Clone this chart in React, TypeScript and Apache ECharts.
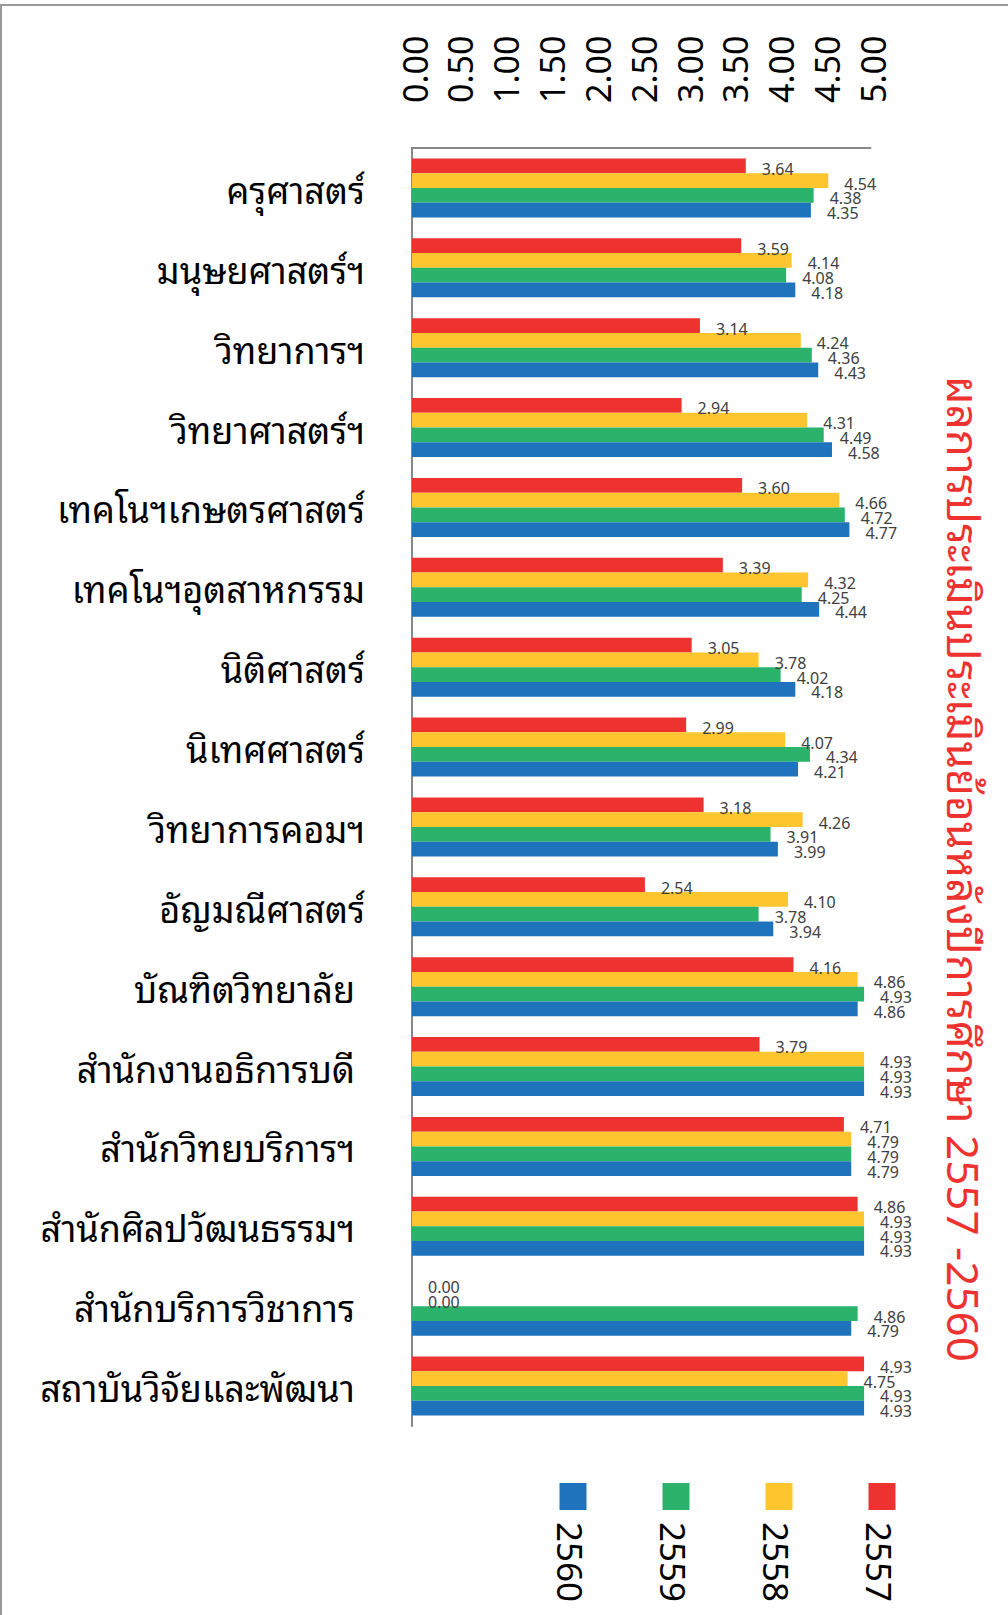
import React, { useEffect, useRef } from "react";
import * as echarts from "echarts";

const categories = [
  "ครุศาสตร์",
  "มนุษยศาสตร์ฯ",
  "วิทยาการฯ",
  "วิทยาศาสตร์ฯ",
  "เทคโนฯเกษตรศาสตร์",
  "เทคโนฯอุตสาหกรรม",
  "นิติศาสตร์",
  "นิเทศศาสตร์",
  "วิทยาการคอมฯ",
  "อัญมณีศาสตร์",
  "บัณฑิตวิทยาลัย",
  "สำนักงานอธิการบดี",
  "สำนักวิทยบริการฯ",
  "สำนักศิลปวัฒนธรรมฯ",
  "สำนักบริการวิชาการ",
  "สถาบันวิจัยและพัฒนา",
];

const values2557 = [3.64, 3.59, 3.14, 2.94, 3.6, 3.39, 3.05, 2.99, 3.18, 2.54, 4.16, 3.79, 4.71, 4.86, 0.0, 4.93];
const values2558 = [4.54, 4.14, 4.24, 4.31, 4.66, 4.32, 3.78, 4.07, 4.26, 4.1, 4.86, 4.93, 4.79, 4.93, 0.0, 4.75];
const values2559 = [4.38, 4.08, 4.36, 4.49, 4.72, 4.25, 4.02, 4.34, 3.91, 3.78, 4.93, 4.93, 4.79, 4.93, 4.86, 4.93];
const values2560 = [4.35, 4.18, 4.43, 4.58, 4.77, 4.44, 4.18, 4.21, 3.99, 3.94, 4.86, 4.93, 4.79, 4.93, 4.79, 4.93];

const seriesNames = ["2557", "2558", "2559", "2560"];
const seriesColors = ["#EE3230", "#FFC52E", "#2BB36C", "#1F73BC"];
const seriesValues = [values2557, values2558, values2559, values2560];

const titleText = "ผลการประเมินประเมินย้อนหลังปีการศึกษา 2557 -2560";

const THAI_FONT =
  "Tahoma, 'Leelawadee UI', 'Noto Sans Thai Looped', 'Noto Serif Thai', Loma, Garuda, Norasi, 'TH Sarabun New', Sarabun, 'Noto Sans Thai', 'Noto Sans', 'DejaVu Sans', sans-serif";

export default function App() {
  const ref = useRef<HTMLDivElement>(null);

  useEffect(() => {
    document.body.style.margin = "0";
    if (!ref.current) return;
    const chart = echarts.init(ref.current, undefined, { renderer: "svg" });

    const legendOrder = [3, 2, 1, 0];
    const legendGraphics: any[] = [];
    legendOrder.forEach((si, k) => {
      const cx = 573 + k * 103;
      legendGraphics.push({
        type: "rect",
        shape: { x: cx - 13.5, y: 1483, width: 27, height: 27 },
        style: { fill: seriesColors[si] },
      });
      legendGraphics.push({
        type: "text",
        x: cx,
        y: 1522,
        rotation: -Math.PI / 2,
        style: {
          text: seriesNames[si],
          fill: "#000",
          font: `35px ${THAI_FONT}`,
          textAlign: "left",
          textVerticalAlign: "middle",
        },
      });
    });

    const option: any = {
      animation: false,
      backgroundColor: "#fff",
      grid: { left: 412, top: 148, width: 458.5, height: 1278, containLabel: false },
      xAxis: {
        type: "value",
        position: "top",
        min: 0,
        max: 5,
        interval: 0.5,
        axisLine: { show: true, lineStyle: { color: "#888", width: 2 } },
        axisTick: { show: false },
        splitLine: { show: false },
        axisLabel: {
          rotate: -90,
          margin: 45,
          fontSize: 34,
          color: "#000",
          fontFamily: THAI_FONT,
          padding: [0, 0, 6, 0],
          formatter: (v: number) => v.toFixed(2),
        },
      },
      yAxis: {
        type: "category",
        inverse: true,
        data: categories,
        axisLine: { show: true, lineStyle: { color: "#888", width: 2 } },
        axisTick: { show: false },
        axisLabel: {
          margin: 47,
          fontSize: 36,
          color: "#000",
          fontFamily: THAI_FONT,
          formatter: (v: string, i: number) => (i >= 10 ? `{b|${v}}` : `{a|${v}}`),
          rich: {
            a: { fontSize: 36, color: "#000", fontFamily: THAI_FONT },
            b: { fontSize: 36, color: "#000", fontFamily: THAI_FONT, padding: [0, 10, 0, 0] },
          },
        },
      },
      series: seriesNames.map((name, si) => ({
        name,
        type: "bar",
        data: seriesValues[si],
        barGap: "0%",
        barCategoryGap: "26%",
        itemStyle: { color: seriesColors[si] },
        label: {
          show: true,
          position: "right",
          distance: 16,
          offset: [0, 3],
          fontSize: 16,
          color: "#404040",
          fontFamily: "Tahoma, 'Noto Sans', sans-serif",
          formatter: (p: any) => Number(p.value).toFixed(2),
        },
      })),
      graphic: [
        {
          type: "line",
          shape: { x1: 0, y1: 5, x2: 1008, y2: 5 },
          style: { stroke: "#999", lineWidth: 2 },
        },
        {
          type: "line",
          shape: { x1: 1, y1: 5, x2: 1, y2: 1615 },
          style: { stroke: "#999", lineWidth: 2 },
        },
        {
          type: "text",
          x: 967,
          y: 869,
          rotation: -Math.PI / 2,
          style: {
            text: titleText,
            fill: "#EE3230",
            font: `44px ${THAI_FONT}`,
            textAlign: "center",
            textVerticalAlign: "middle",
          },
        },
        ...legendGraphics,
      ],
    };

    chart.setOption(option);
    return () => chart.dispose();
  }, []);

  return <div ref={ref} style={{ width: 1008, height: 1615 }} />;
}
